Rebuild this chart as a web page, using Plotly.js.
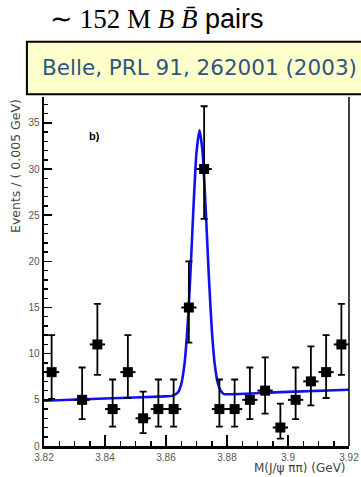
<!DOCTYPE html>
<html>
<head>
<meta charset="utf-8">
<script src="https://cdn.plot.ly/plotly-3.0.1.min.js"></script>
<style>html,body{margin:0;padding:0;background:#fff;}#chart{width:361px;height:477px;}</style>
</head>
<body>
<div id="chart"></div>
<script>
// Data points: bin centres (GeV), counts and asymmetric error-bar ends
const massBins = [3.8225, 3.8325, 3.8375, 3.8425, 3.8475, 3.8525, 3.8575, 3.8625, 3.8675, 3.8725,
                  3.8775, 3.8825, 3.8875, 3.8925, 3.8975, 3.9025, 3.9075, 3.9125, 3.9175];
const events   = [8, 5, 11, 4, 8, 3, 4, 4, 15, 30, 4, 4, 5, 6, 2, 5, 7, 8, 11];
const errUp    = [4.0, 3.5, 4.4, 3.2, 4.0, 2.9, 3.2, 3.2, 5.0, 6.8, 3.2, 3.2, 3.5, 3.6, 2.6, 3.5, 3.8, 4.0, 4.4];
const errDown  = [2.9, 2.1, 3.3, 1.9, 2.8, 1.6, 1.9, 1.9, 3.8, 5.4, 1.9, 1.9, 2.1, 2.5, 1.2, 2.1, 2.6, 2.8, 3.3];
const binHalfWidth = [0.0025];

// Fit curve
const fitX = [3.82, 3.84, 3.86, 3.862, 3.864, 3.865, 3.866, 3.867, 3.868, 3.869, 3.870, 3.871,
              3.872, 3.873, 3.874, 3.875, 3.876, 3.877, 3.878, 3.879, 3.880, 3.90, 3.92];
const fitY = [4.9, 5.14, 5.38, 5.43, 5.84, 6.7, 8.7, 12.6, 18.6, 25.8, 31.8, 34.2,
              31.8, 25.8, 18.7, 12.7, 8.8, 6.8, 5.95, 5.62, 5.6, 5.86, 6.1];

const xTickVals = [3.82, 3.84, 3.86, 3.88, 3.90, 3.92];
const xTickText = ["3.82", "3.84", "3.86", "3.88", "3.9", "3.92"];
const yTickVals = [0, 5, 10, 15, 20, 25, 30, 35];

const traces = [
  {
    x: fitX, y: fitY, type: 'scatter', mode: 'lines',
    line: {color: '#1010f0', width: 2.6, shape: 'spline', smoothing: 0.6},
    hoverinfo: 'skip'
  },
  {
    x: massBins, y: events, type: 'scatter', mode: 'markers',
    marker: {symbol: 'square', size: 10, color: '#000'},
    error_y: {type: 'data', symmetric: false, array: errUp, arrayminus: errDown,
              color: '#000', thickness: 1.8, width: 3.5},
    error_x: {type: 'constant', value: binHalfWidth[0], color: '#000', thickness: 2, width: 0}
  }
];

const tickFont = {family: 'Liberation Sans, Arial, sans-serif', size: 10, color: '#555'};

const layout = {
  width: 361, height: 477,
  margin: {l: 44, r: 12, t: 97, b: 31, pad: 0},
  paper_bgcolor: '#fff', plot_bgcolor: '#fff',
  showlegend: false,
  xaxis: {
    range: [3.82, 3.92], showgrid: false, zeroline: false,
    showline: true, linecolor: '#000', linewidth: 2.5,
    ticks: 'inside', ticklen: 11, tickwidth: 1.5, tickcolor: '#000',
    tickmode: 'array', tickvals: xTickVals, ticktext: xTickText,
    tickfont: tickFont,
    minor: {dtick: 0.005, tick0: 3.82, ticks: 'inside', ticklen: 5, tickwidth: 1.5, tickcolor: '#000', showgrid: false}
  },
  yaxis: {
    range: [0, 37.8], showgrid: false, zeroline: false,
    showline: true, linecolor: '#000', linewidth: 2.5,
    ticks: 'inside', ticklen: 8, tickwidth: 1.5, tickcolor: '#000',
    tickmode: 'array', tickvals: yTickVals,
    tickfont: tickFont,
    minor: {dtick: 1, tick0: 0, ticks: 'inside', ticklen: 4, tickwidth: 1.5, tickcolor: '#000', showgrid: false}
  },
  shapes: [
    {type: 'line', xref: 'paper', yref: 'paper', x0: 1, x1: 1, y0: 0, y1: 1,
     line: {color: '#000', width: 1.5}},
    {type: 'rect', xref: 'paper', yref: 'paper', x0: -0.056, x1: 1.08, y0: 1.008, y1: 1.158,
     fillcolor: '#ffffcc', line: {color: '#000', width: 2}}
  ],
  annotations: [
    {xref: 'paper', yref: 'paper', x: (48 - 44) / 305, y: (446 - 19) / 349,
     xanchor: 'left', yanchor: 'middle', showarrow: false,
     text: '<span style="font-family:\'Liberation Serif\', serif">∼ 152 M <i>B</i> <i>B\u0304</i></span> pairs',
     font: {family: 'Liberation Sans, Arial, sans-serif', size: 27, color: '#000'}},
    {xref: 'paper', yref: 'paper', x: (40 - 44) / 305, y: (446 - 68) / 349,
     xanchor: 'left', yanchor: 'middle', showarrow: false,
     text: 'Belle, PRL 91, 262001 (2003)',
     font: {family: 'DejaVu Sans, Verdana, sans-serif', size: 21.5, color: '#2f5680'}},
    {xref: 'paper', yref: 'paper', x: (94 - 44) / 305, y: (446 - 136) / 349,
     xanchor: 'center', yanchor: 'middle', showarrow: false,
     text: '<b>b)</b>',
     font: {family: 'Liberation Sans, Arial, sans-serif', size: 11, color: '#000'}},
    {xref: 'paper', yref: 'paper', x: (15 - 44) / 305, y: (446 - 166) / 349,
     xanchor: 'center', yanchor: 'middle', showarrow: false, textangle: -90,
     text: 'Events / ( 0.005 GeV)',
     font: {family: 'DejaVu Sans, sans-serif', size: 12.5, color: '#444'}},
    {xref: 'paper', yref: 'paper', x: (348 - 44) / 305, y: (446 - 468) / 349,
     xanchor: 'right', yanchor: 'middle', showarrow: false,
     text: 'M(J/ψ ππ) (GeV)',
     font: {family: 'DejaVu Sans, sans-serif', size: 12, color: '#444'}}
  ]
};

Plotly.newPlot('chart', traces, layout, {displayModeBar: false, staticPlot: true});
</script>
</body>
</html>
